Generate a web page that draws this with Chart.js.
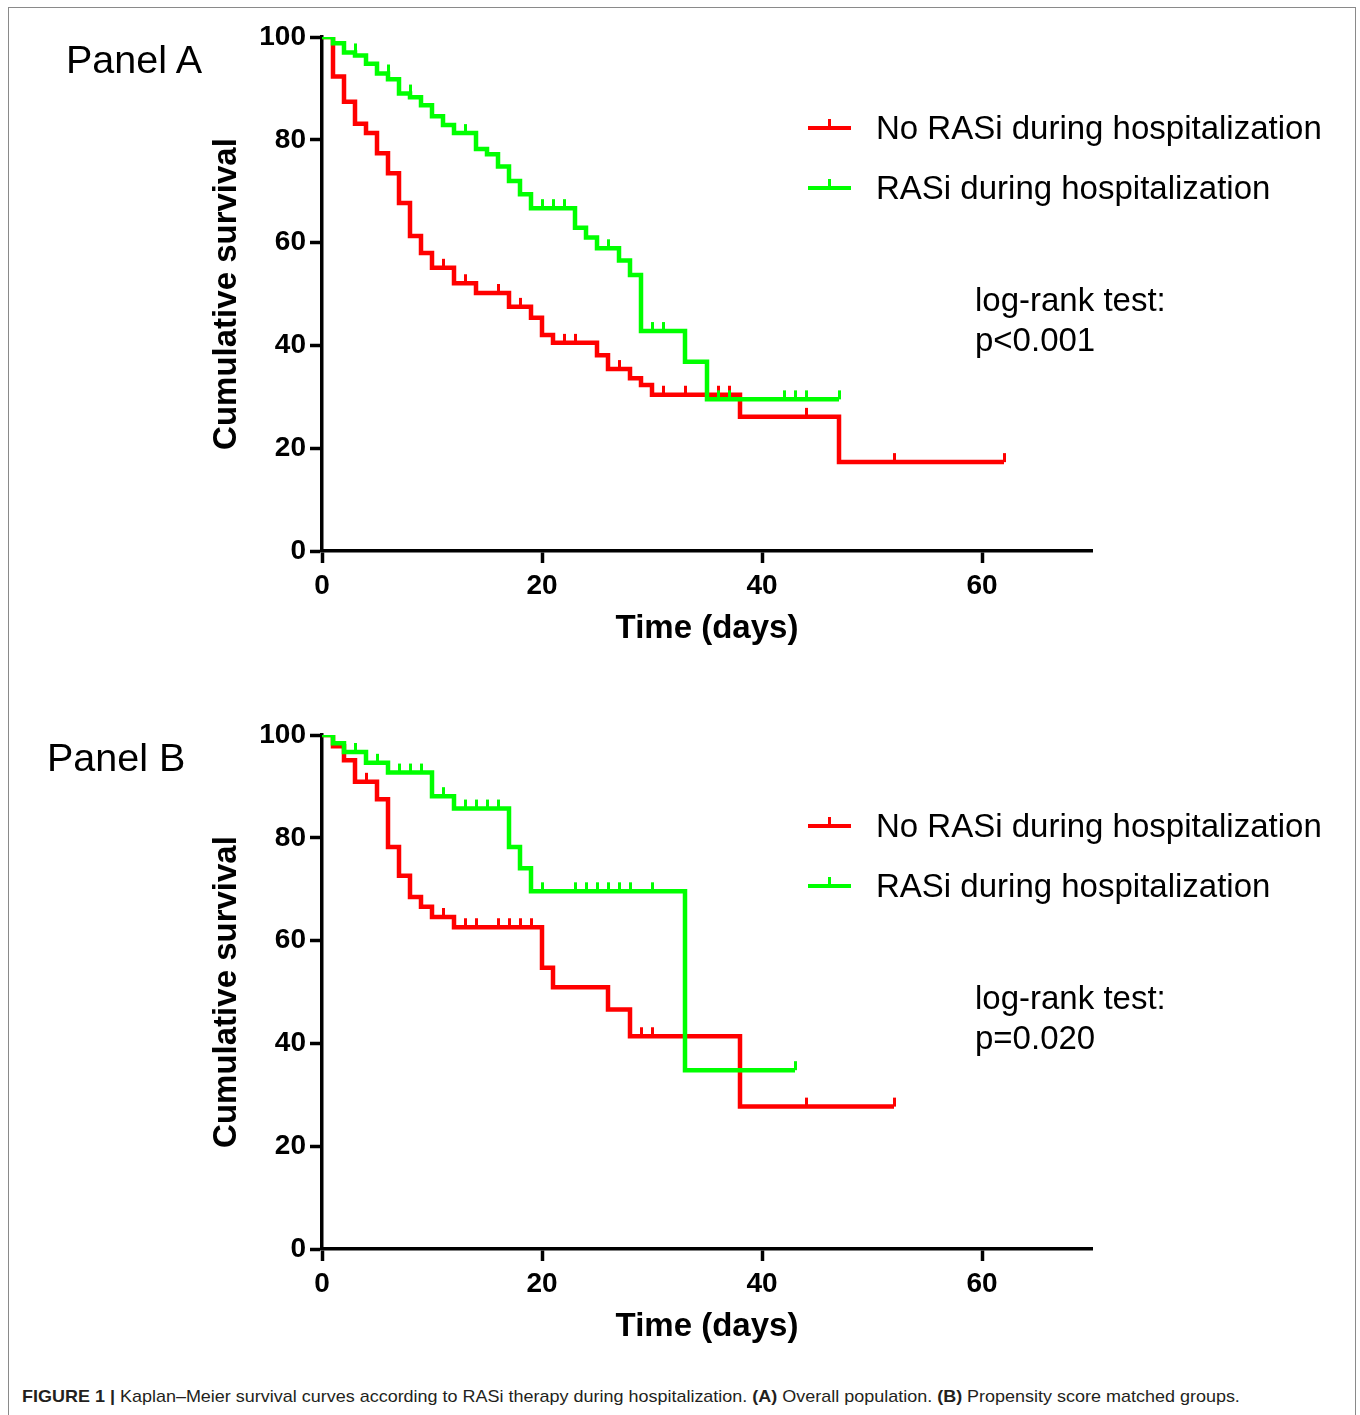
<!DOCTYPE html>
<html>
<head>
<meta charset="utf-8">
<script src="https://cdn.jsdelivr.net/npm/chart.js@4.4.0/dist/chart.umd.min.js"></script>
<style>
  body { margin: 0; background: #fff; }
  #page { position: relative; width: 1360px; height: 1415px; overflow: hidden;
          font-family: "Liberation Sans", Arial, sans-serif; }
  #frame { position: absolute; left: 8px; top: 7px; width: 1346px; height: 1420px;
           border: 1.5px solid #8a8a8a; }
  canvas { position: absolute; left: 0; }
  .txt { position: absolute; white-space: nowrap; color: #000; }
  .leg-line { position: absolute; width: 43px; height: 4px; }
  .leg-tick { position: absolute; width: 3px; height: 9px; }
  #caption { position: absolute; left: 22px; top: 1387px; font-size: 17px; line-height: 20px;
             color: #231f20; white-space: nowrap; transform-origin: left center; }
</style>
</head>
<body>
<div id="page">
  <div id="frame"></div>
  <canvas id="chartA" width="1360" height="680" style="top:0px"></canvas>
  <canvas id="chartB" width="1360" height="680" style="top:698px"></canvas>
  <div id="caption"><b>FIGURE 1 |</b> Kaplan–Meier survival curves according to RASi therapy during hospitalization. <b>(A)</b> Overall population. <b>(B)</b> Propensity score matched groups.</div>
</div>
<script>
// Kaplan–Meier: thời điểm (ngày) và tỉ lệ sống (%)
const X_TICKS = [0, 20, 40, 60];
const Y_TICKS = [0, 20, 40, 60, 80, 100];

const SERIES_NAMES = ["No RASi during hospitalization", "RASi during hospitalization"];
const PANEL_NAMES = ["Panel A", "Panel B"];
const LOGRANK_P = ["p<0.001", "p=0.020"];

// Panel A – không RASi
const A_NO_T = [0, 1, 2, 3, 4, 5, 6, 7, 8, 9, 10, 12, 14, 17, 19, 20, 21, 25, 26, 28, 29, 30, 38, 47, 62];
const A_NO_S = [100, 92.3, 87.4, 83.1, 81.3, 77.4, 73.5, 67.7, 61.3, 58.0, 55.1, 52.1, 50.2, 47.5, 45.4, 42.0, 40.5, 38.1, 35.4, 33.6, 32.3, 30.4, 26.1, 17.3, 17.3];
const A_NO_CENS_T = [11, 13, 16, 18, 22, 23, 27, 31, 33, 36, 37, 44, 52, 62];
const A_NO_CENS_S = [55.1, 52.1, 50.2, 47.5, 40.5, 40.5, 35.4, 30.4, 30.4, 30.4, 30.4, 26.1, 17.3, 17.3];
// Panel A – có RASi
const A_RAS_T = [0, 1, 2, 3, 4, 5, 6, 7, 8, 9, 10, 11, 12, 14, 15, 16, 17, 18, 19, 23, 24, 25, 27, 28, 29, 33, 35, 47];
const A_RAS_S = [100, 98.8, 97.0, 96.4, 94.8, 92.9, 91.8, 89.0, 88.3, 86.7, 84.6, 82.9, 81.3, 78.2, 77.2, 74.8, 72.0, 69.4, 66.7, 62.9, 61.0, 58.9, 56.5, 53.7, 42.8, 36.8, 29.5, 29.5];
const A_RAS_CENS_T = [1, 3, 6, 8, 13, 20, 21, 22, 26, 30, 31, 36, 37, 42, 43, 44, 47];
const A_RAS_CENS_S = [100, 97.0, 92.9, 89.0, 81.3, 66.7, 66.7, 66.7, 58.9, 42.8, 42.8, 29.5, 29.5, 29.5, 29.5, 29.5, 29.5];

// Panel B – không RASi
const B_NO_T = [0, 1, 2, 3, 5, 6, 7, 8, 9, 10, 12, 20, 21, 26, 28, 38, 52];
const B_NO_S = [100, 97.8, 95.1, 90.9, 87.5, 78.2, 72.6, 68.5, 66.6, 64.6, 62.6, 54.7, 50.9, 46.6, 41.4, 27.7, 27.7];
const B_NO_CENS_T = [4, 11, 13, 14, 16, 17, 18, 19, 29, 30, 44, 52];
const B_NO_CENS_S = [90.9, 64.6, 62.6, 62.6, 62.6, 62.6, 62.6, 62.6, 41.4, 41.4, 27.7, 27.7];
// Panel B – có RASi
const B_RAS_T = [0, 1, 2, 4, 6, 10, 12, 17, 18, 19, 33, 43];
const B_RAS_S = [100, 98.4, 96.7, 94.6, 92.7, 88.1, 85.7, 78.2, 74.1, 69.6, 34.8, 34.8];
const B_RAS_CENS_T = [3, 5, 7, 8, 9, 11, 13, 14, 15, 16, 20, 23, 24, 25, 26, 27, 28, 30, 43];
const B_RAS_CENS_S = [96.7, 94.6, 92.7, 92.7, 92.7, 88.1, 85.7, 85.7, 85.7, 85.7, 69.6, 69.6, 69.6, 69.6, 69.6, 69.6, 69.6, 69.6, 34.8];

const RED = "#ff0000";
const GREEN = "#00ff00";
const FONT = "'Liberation Sans', Arial, sans-serif";

// dấu kiểm duyệt: vạch đứng nhô lên trên đường
function censorMark(color) {
  const c = document.createElement("canvas");
  c.width = 3; c.height = 22;
  const g = c.getContext("2d");
  g.fillStyle = color;
  g.fillRect(0, 2, 3, 9);
  return c;
}
const pts = (T, S) => T.map((t, i) => ({ x: t, y: S[i] }));

function makePanel(canvasId, noT, noS, noCT, noCS, rasT, rasS, rasCT, rasCS) {
  const ctx = document.getElementById(canvasId).getContext("2d");
  return new Chart(ctx, {
    type: "scatter",
    data: {
      datasets: [
        { type: "line", data: pts(rasT, rasS), stepped: true, borderColor: GREEN, borderWidth: 4.5,
          pointRadius: 0, fill: false, order: 1 },
        { type: "scatter", data: pts(rasCT, rasCS), pointStyle: censorMark(GREEN), pointRadius: 5, order: 0 },
        { type: "line", data: pts(noT, noS), stepped: true, borderColor: RED, borderWidth: 4.5,
          pointRadius: 0, fill: false, order: 3 },
        { type: "scatter", data: pts(noCT, noCS), pointStyle: censorMark(RED), pointRadius: 5, order: 2 },
      ]
    },
    options: {
      responsive: false,
      animation: false,
      events: [],
      layout: { padding: { left: 202, right: 268, top: 37, bottom: 29 } },
      plugins: { legend: { display: false }, tooltip: { enabled: false } },
      scales: {
        x: {
          type: "linear", min: 0, max: 70,
          afterBuildTicks: s => { s.ticks = X_TICKS.map(v => ({ value: v })); },
          afterFit: s => { s.height = 100; },
          ticks: { font: { family: FONT, size: 28, weight: "bold" }, color: "#000", padding: 6, maxRotation: 0, autoSkip: false },
          grid: { drawOnChartArea: false, drawTicks: true, tickLength: 12, tickWidth: 3.5, tickColor: "#000" },
          border: { display: true, width: 3.5, color: "#000" },
          title: { display: true, text: "Time (days)", color: "#000",
                   font: { family: FONT, size: 33, weight: "bold" }, padding: { top: 0, bottom: 2 } }
        },
        y: {
          type: "linear", min: 0, max: 100,
          afterBuildTicks: s => { s.ticks = Y_TICKS.map(v => ({ value: v })); },
          afterFit: s => { s.width = 120; },
          ticks: { font: { family: FONT, size: 28, weight: "bold" }, color: "#000", padding: 4, autoSkip: false },
          grid: { drawOnChartArea: false, drawTicks: true, tickLength: 12, tickWidth: 3.5, tickColor: "#000" },
          border: { display: true, width: 3.5, color: "#000" },
          title: { display: true, text: "Cumulative survival", color: "#000",
                   font: { family: FONT, size: 33, weight: "bold" }, padding: { top: 5, bottom: 0 } }
        }
      }
    }
  });
}

makePanel("chartA", A_NO_T, A_NO_S, A_NO_CENS_T, A_NO_CENS_S, A_RAS_T, A_RAS_S, A_RAS_CENS_T, A_RAS_CENS_S);
makePanel("chartB", B_NO_T, B_NO_S, B_NO_CENS_T, B_NO_CENS_S, B_RAS_T, B_RAS_S, B_RAS_CENS_T, B_RAS_CENS_S);

// chữ, chú giải (HTML) cho hai panel
const page = document.getElementById("page");
function addText(text, left, top, size, lh) {
  const d = document.createElement("div");
  d.className = "txt";
  d.style.cssText = `left:${left}px;top:${top}px;font-size:${size}px;line-height:${lh}px;`;
  d.innerHTML = text;
  page.appendChild(d);
}
function addLegend(color, y, label) {
  const l = document.createElement("div");
  l.className = "leg-line";
  l.style.cssText = `left:808px;top:${y - 2}px;background:${color};`;
  const t = document.createElement("div");
  t.className = "leg-tick";
  t.style.cssText = `left:828px;top:${y - 9}px;background:${color};`;
  page.appendChild(l); page.appendChild(t);
  addText(label, 876, y - 20, 33, 40);
}
[0, 698].forEach((dy, i) => {
  addText(PANEL_NAMES[i], i === 0 ? 66 : 47, 36 + dy, 39.5, 46);
  addLegend(RED, 128 + dy, SERIES_NAMES[0]);
  addLegend(GREEN, 188 + dy, SERIES_NAMES[1]);
  addText("log-rank test:", 975, 280 + dy, 33, 40);
  addText(LOGRANK_P[i], 975, 320 + dy, 33, 40);
});

// co chú thích cho vừa bề ngang như bản gốc
const cap = document.getElementById("caption");
cap.style.transform = `scaleX(${1218 / cap.scrollWidth})`;
</script>
</body>
</html>
